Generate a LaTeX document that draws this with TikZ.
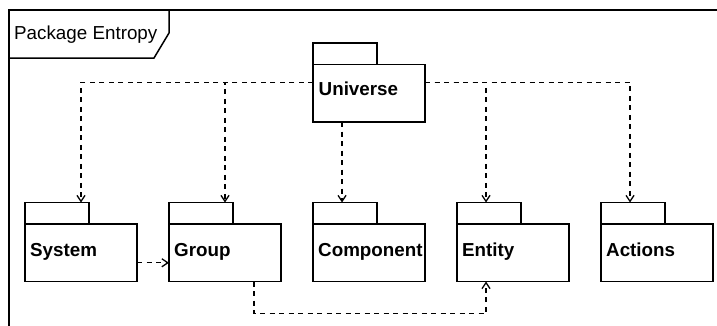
\documentclass[tikz,border=0pt]{standalone}
\usepackage{fontspec}
\setmainfont{Liberation Sans}
\usetikzlibrary{arrows.meta}
\begin{document}
\begin{tikzpicture}[x=1pt,y=-1pt,
  body/.style={draw,line width=1.3pt,minimum width=112pt,minimum height=57.5pt,anchor=north west,inner sep=0pt,outer sep=0pt},
  tab/.style={draw,line width=1.3pt,minimum width=64pt,minimum height=21.5pt,anchor=south west,inner sep=0pt,outer sep=0pt},
  lbl/.style={font=\fontsize{18.8}{21}\selectfont\bfseries,anchor=base west,inner sep=0pt},
  dep/.style={line width=1.3pt,dash pattern=on 5pt off 4.5pt,-{Straight Barb[length=6pt,width=8pt,line width=1.3pt]}},
  frm/.style={line width=1.5pt}]
\useasboundingbox (0,0) rectangle (717,325);
\clip (0,0) rectangle (717,325);
\fill[white] (0,0) rectangle (717,325);
% frame
\draw[frm] (730,10) -- (9,10) -- (9,340);
\draw[frm] (9,58) -- (154,58) -- (169,33) -- (169,10);
\node[font=\fontsize{18.8}{21}\selectfont,anchor=base west,inner sep=0pt] (titletext) at (14,39.5) {Package Entropy};
% packages
\node[body] (uni) at (313,64.5) {};
\node[tab] (unitab) at (uni.north west) {};
\node[lbl] (unitext) at (318.5,95.5) {Universe};

\node[body] (sys) at (25,224) {};
\node[tab] (systab) at (sys.north west) {};
\node[lbl] (systext) at (30,256.5) {System};

\node[body] (grp) at (169,224) {};
\node[tab] (grptab) at (grp.north west) {};
\node[lbl] (grptext) at (174,256.5) {Group};

\node[body] (comp) at (313,224) {};
\node[tab] (comptab) at (comp.north west) {};
\node[lbl] (comptext) at (318,256.5) {Component};

\node[body] (ent) at (457,224) {};
\node[tab] (enttab) at (ent.north west) {};
\node[lbl] (enttext) at (462,256.5) {Entity};

\node[body] (act) at (601,224) {};
\node[tab] (acttab) at (act.north west) {};
\node[lbl] (acttext) at (606,256.5) {Actions};
% connectors
\draw[dep] ([yshift=11pt]uni.west) -| (sys.north |- systab.north);
\draw[dep] ([yshift=11pt]uni.west) -| (grp.north |- grptab.north);
\draw[dep] ([xshift=-27pt]uni.south) -- ([xshift=-27pt]comp.north |- comptab.north);
\draw[dep] ([yshift=11pt]uni.east) -| ([xshift=-27pt]ent.north |- enttab.north);
\draw[dep] ([yshift=11pt]uni.east) -| ([xshift=-27pt]act.north |- acttab.north);
\draw[dep] ([yshift=-10pt]sys.east) -- ([yshift=-10pt]grp.west);
\draw[dep] ([xshift=29pt]grp.south) -- ++(0,32) -| ([xshift=-27pt]ent.south);
\end{tikzpicture}
\end{document}
